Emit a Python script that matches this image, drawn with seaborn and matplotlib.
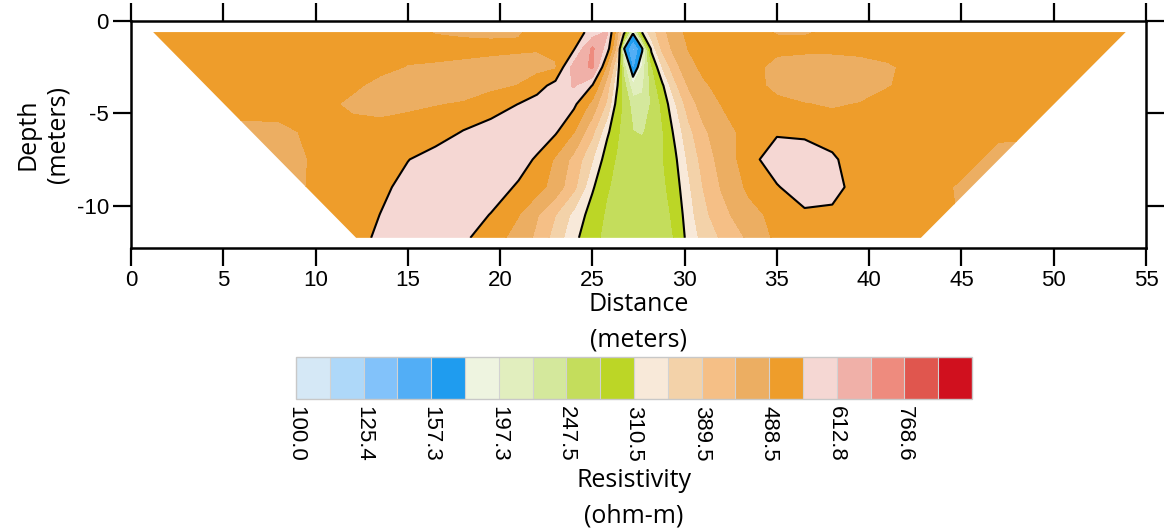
import numpy as np
import matplotlib
matplotlib.use("Agg")
import matplotlib.pyplot as plt
from matplotlib.colors import ListedColormap, BoundaryNorm
from matplotlib.patches import Polygon
import seaborn as sns

# ---------------- data ----------------
distance = [0, 3, 6, 8, 10, 12, 13.5, 15, 16.5, 18, 19.5, 21, 22, 23, 24, 25, 25.8, 26.3,
            26.7, 27.2, 27.7, 28.2, 28.8, 29.5, 30.2, 31, 32, 33.5, 35, 36.5, 38, 39.5, 41,
            43, 45, 47, 50, 55]
depth = [-0.6, -1.5, -2.5, -3.5, -4.5, -6.0, -7.5, -9.0, -10.5, -11.75]

rho_d0_6 = [515, 515, 515, 515, 515, 515, 512, 505, 485, 480, 480, 485, 500, 510, 515, 570, 620, 470,
            330, 180, 315, 370, 420, 470, 500, 512, 515, 505, 485, 485, 495, 510, 515, 515, 515, 515, 510, 515]
rho_d1_5 = [515, 515, 515, 515, 515, 515, 512, 510, 510, 505, 500, 495, 492, 505, 540, 700, 580, 420,
            178, 135, 172, 320, 400, 455, 490, 510, 515, 515, 505, 500, 500, 505, 512, 515, 515, 515, 515, 515]
rho_d2_5 = [515, 515, 515, 515, 515, 512, 505, 485, 480, 475, 470, 468, 470, 480, 640, 700, 470, 350,
            235, 150, 200, 270, 350, 420, 470, 500, 512, 515, 465, 460, 460, 465, 480, 515, 515, 515, 515, 515]
rho_d3_5 = [515, 515, 515, 515, 510, 500, 470, 462, 462, 465, 475, 490, 520, 570, 620, 545, 410, 320,
            260, 200, 215, 255, 305, 380, 440, 480, 505, 515, 470, 460, 460, 470, 485, 515, 515, 515, 515, 515]
rho_d4_5 = [515, 515, 515, 520, 512, 475, 465, 478, 486, 492, 515, 548, 575, 590, 560, 470, 380, 300,
            270, 235, 230, 250, 285, 345, 410, 460, 490, 510, 505, 490, 484, 490, 510, 515, 515, 515, 515, 515]
rho_d6_0 = [515, 515, 470, 470, 505, 512, 512, 512, 515, 550, 575, 580, 580, 555, 490, 400, 318, 285,
            265, 248, 245, 255, 275, 320, 375, 425, 470, 505, 535, 525, 510, 510, 515, 515, 515, 500, 495, 515]
rho_d7_5 = [515, 470, 465, 465, 495, 512, 512, 545, 575, 580, 580, 570, 540, 480, 420, 350, 290, 275,
            265, 262, 262, 265, 275, 305, 355, 405, 455, 515, 600, 605, 560, 500, 510, 515, 510, 470, 470, 515]
rho_d9_0 = [515, 515, 470, 470, 495, 510, 530, 570, 580, 580, 575, 540, 510, 465, 400, 315, 280, 270,
            262, 260, 260, 262, 270, 295, 340, 390, 440, 500, 540, 600, 585, 500, 512, 515, 480, 470, 500, 515]
rho_d10_5 = [515, 515, 515, 500, 505, 505, 548, 575, 580, 575, 545, 490, 440, 390, 335, 295, 272, 265,
             260, 258, 258, 260, 265, 285, 330, 375, 420, 470, 505, 530, 525, 512, 515, 510, 485, 490, 515, 515]
rho_d11_75 = [515, 515, 515, 515, 515, 510, 565, 580, 578, 560, 510, 470, 425, 370, 320, 285, 270, 262,
              258, 256, 256, 258, 262, 280, 322, 360, 395, 445, 500, 515, 515, 515, 515, 512, 500, 515, 515, 515]

# survey coverage (pseudo-section trapezoid): distance / depth of corners
section_x = [1.2, 53.9, 42.8, 12.2]
section_z = [-0.6, -0.6, -11.75, -11.75]

levels = [100.0, 112.0, 125.4, 140.4, 157.3, 176.2, 197.3, 221.0, 247.5, 277.2, 310.5,
          347.8, 389.5, 436.2, 488.5, 547.1, 612.8, 686.3, 768.6, 860.8, 964.1]
tick_levels = [100.0, 125.4, 157.3, 197.3, 247.5, 310.5, 389.5, 488.5, 612.8, 768.6]
outline_levels = [176.2, 310.5, 547.1]

level_colors = ["#d5e8f6", "#aed8f9", "#82c2fa", "#52aef6", "#1f9cef",
                "#eef4e0", "#e1eebe", "#d4e89c", "#c4dd5c", "#bcd626",
                "#f8e9d9", "#f3d2a9", "#f5bf86", "#ecae62", "#ee9d2b",
                "#f5d7d3", "#f0b0a8", "#ee8b7e", "#e0564e", "#d0101e"]

# ---------------- style ----------------
sns.set_theme(style="ticks")
plt.rcParams["font.family"] = ["Liberation Sans", "DejaVu Sans"]
plt.rcParams["axes.unicode_minus"] = False
for key in ["text.color", "axes.labelcolor", "xtick.color", "ytick.color", "axes.edgecolor"]:
    plt.rcParams[key] = "black"

Z = np.array([rho_d0_6, rho_d1_5, rho_d2_5, rho_d3_5, rho_d4_5, rho_d6_0,
              rho_d7_5, rho_d9_0, rho_d10_5, rho_d11_75], dtype=float)

palette = sns.color_palette(level_colors)
cmap = ListedColormap(palette)
norm = BoundaryNorm(levels, cmap.N)

W, H = 1171, 531
fig = plt.figure(figsize=(W / 100, H / 100), dpi=100)
ax = fig.add_axes([131 / W, 1 - 248 / H, 1015 / W, 227 / H])

cs = ax.contourf(distance, depth, Z, levels=levels, cmap=cmap, norm=norm)
cl = ax.contour(distance, depth, Z, levels=outline_levels, colors="black", linewidths=1.5)

clip = Polygon(list(zip(section_x, section_z)), closed=True, facecolor="none",
               edgecolor="none", transform=ax.transData)
ax.add_patch(clip)
cs.set_clip_path(clip)
cl.set_clip_path(clip)

ax.set_xlim(0, 55)
ax.set_ylim(-12.3, 0)
ax.set_xticks(range(0, 56, 5))
ax.set_yticks([0, -5, -10])
ax.set_yticklabels(["0", "-5", "-10"])
ax.tick_params(direction="out", length=13, width=1.6, top=True, right=True,
               labeltop=False, labelright=False, labelsize=16, pad=3, colors="black")
for sp in ax.spines.values():
    sp.set_linewidth(1.8)
    sp.set_color("black")
ax.set_facecolor("white")

lab_font = dict(family=["Open Sans", "DejaVu Sans"], fontsize=18, color="black")
ax.set_xlabel("Distance\n(meters)", linespacing=1.55, **lab_font)
ax.xaxis.set_label_coords(0.5, (248 - 292) / 227)
ax.set_ylabel("Depth\n(meters)", linespacing=1.25, **lab_font)
ax.yaxis.set_label_coords((70 - 131) / 1015, 0.5)

# ---------------- colour bar ----------------
cax = fig.add_axes([296 / W, 1 - 399 / H, 676 / W, 42 / H])
cbar = fig.colorbar(cs, cax=cax, orientation="horizontal", ticks=tick_levels,
                    drawedges=True, spacing="uniform")
cbar.ax.minorticks_off()
cbar.ax.set_xticklabels([f"{v:.1f}" for v in tick_levels])
cbar.ax.tick_params(which="both", length=0, labelsize=16, pad=5, colors="black")
for t in cbar.ax.get_xticklabels():
    t.set_rotation(270)
cbar.outline.set_edgecolor("#c8c8c8")
cbar.outline.set_linewidth(1.0)
cbar.dividers.set_color("#d2d2d2")
cbar.dividers.set_linewidth(0.8)
cbar.ax.set_xlabel("Resistivity\n(ohm-m)", linespacing=1.55, **lab_font)
cbar.ax.xaxis.set_label_coords(0.5, (399 - 468) / 42)

fig.savefig("out.png", dpi=100, facecolor="white")
